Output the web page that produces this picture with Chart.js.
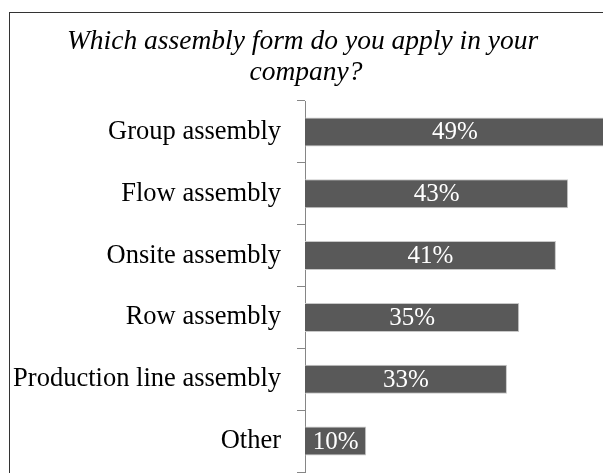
<!DOCTYPE html>
<html>
<head>
<meta charset="utf-8">
<script src="https://cdn.jsdelivr.net/npm/chart.js@4/dist/chart.umd.min.js"></script>
<style>
  html, body { margin: 0; padding: 0; background: #fff; width: 603px; height: 473px; overflow: hidden; }
  #frame { position: absolute; left: 9px; top: 12px; width: 640px; height: 500px; border: 1px solid #333; box-sizing: border-box; }
  #chart { position: absolute; left: -6px; top: 0; }
</style>
</head>
<body>
<div id="frame"></div>
<canvas id="chart" width="620" height="480"></canvas>
<script>
// Survey answers: share of companies using each assembly form (%)
const categories = ['Group assembly', 'Flow assembly', 'Onsite assembly', 'Row assembly', 'Production line assembly', 'Other'];
const shares = [49, 43, 41, 35, 33, 10];
const titleLines = ['Which assembly form do you apply in your ', 'company?'];

const serif = '"Liberation Serif", "Times New Roman", serif';

// Writes each bar's percentage in white, centred inside the bar
const barValueLabels = {
  id: 'barValueLabels',
  afterDatasetsDraw(chart) {
    const ctx = chart.ctx;
    const meta = chart.getDatasetMeta(0);
    ctx.save();
    ctx.fillStyle = '#ffffff';
    ctx.font = '25px ' + serif;
    ctx.textAlign = 'center';
    ctx.textBaseline = 'middle';
    meta.data.forEach((bar, i) => {
      const cx = (bar.base + bar.x) / 2;
      ctx.fillText(shares[i] + '%', cx, bar.y + 1);
    });
    ctx.restore();
  }
};

new Chart(document.getElementById('chart'), {
  type: 'bar',
  data: {
    labels: categories,
    datasets: [{
      data: shares,
      backgroundColor: '#595959',
      borderColor: '#c8c8c8',
      borderWidth: 1,
      barPercentage: 0.47,
      categoryPercentage: 1
    }]
  },
  options: {
    indexAxis: 'y',
    responsive: false,
    animation: false,
    devicePixelRatio: 1,
    layout: { padding: { top: 14, left: 7, right: 3, bottom: 8 } },
    plugins: {
      legend: { display: false },
      tooltip: { enabled: false },
      title: {
        display: true,
        text: titleLines,
        color: '#000',
        font: { family: serif, size: 27.5, style: 'italic', weight: 'normal', lineHeight: 31 / 27.5 },
        padding: { top: 12, bottom: 13 }
      }
    },
    scales: {
      x: { display: false, min: 0, max: 50 },
      y: {
        afterFit(scale) {
          // fixed label column; labels sit between boundary ticks, so no end padding is needed
          scale.width = 304;
          scale.paddingTop = 0;
          scale.paddingBottom = 0;
        },
        border: { display: true, color: '#868686', width: 1 },
        grid: { drawOnChartArea: false, drawTicks: true, tickLength: 8, color: '#868686', offset: true },
        ticks: { color: '#000', padding: 16, font: { family: serif, size: 26.5 } }
      }
    }
  },
  plugins: [barValueLabels]
});
</script>
</body>
</html>
